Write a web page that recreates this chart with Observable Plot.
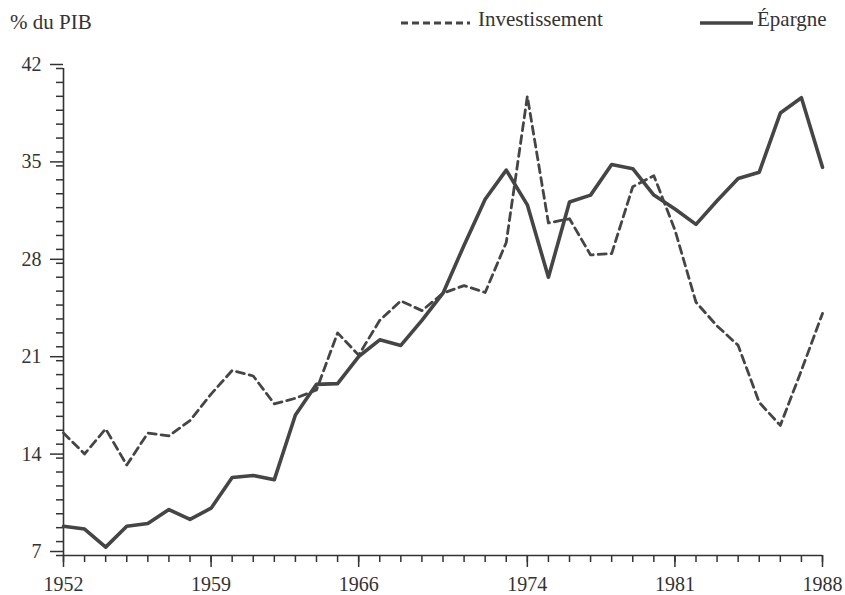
<!DOCTYPE html>
<html>
<head>
<meta charset="utf-8">
<script src="https://cdn.jsdelivr.net/npm/d3@7"></script>
<script src="https://cdn.jsdelivr.net/npm/@observablehq/plot@0.6"></script>
<style>
  html, body { margin: 0; padding: 0; background: #fff; }
  #wrap { position: relative; width: 845px; height: 595px; font-family: "Liberation Serif", "DejaVu Serif", serif; color: #333; }
  .lbl { position: absolute; font-size: 21px; line-height: 22px; white-space: nowrap; }
  .sample { position: absolute; }
</style>
</head>
<body>
<div id="wrap">
  <div class="lbl" style="left:10px; top:11px;">% du PIB</div>
  <svg class="sample" style="left:400px; top:12px;" width="72" height="20"><line x1="1" y1="11" x2="70" y2="11" stroke="#454545" stroke-width="3" stroke-dasharray="7,4"/></svg>
  <div class="lbl" style="left:478px; top:8px;">Investissement</div>
  <svg class="sample" style="left:700px; top:12px;" width="56" height="20"><line x1="0" y1="11" x2="53" y2="11" stroke="#454545" stroke-width="3.5"/></svg>
  <div class="lbl" style="left:757px; top:8px;">Épargne</div>
  <div id="chart" style="position:absolute; left:0; top:0;"></div>
</div>
<script>
const years = [1952,1953,1954,1955,1956,1957,1958,1959,1960,1961,1962,1963,1964,1965,1966,1967,1968,1969,1970,1971,1972,1973,1974,1975,1976,1977,1978,1979,1980,1981,1982,1983,1984,1985,1986,1987,1988];
const investissement = [15.8,14.3,16.1,13.5,15.8,15.6,16.7,18.6,20.3,19.9,17.9,18.3,18.9,23.0,21.4,23.9,25.3,24.6,25.85,26.4,25.9,29.5,40.0,30.9,31.2,28.6,28.7,33.5,34.3,30.4,25.2,23.5,22.1,18.0,16.35,20.3,24.4];
const epargne = [9.1,8.9,7.6,9.1,9.3,10.3,9.6,10.4,12.6,12.75,12.45,17.1,19.3,19.35,21.3,22.5,22.1,23.9,25.85,29.3,32.6,34.7,32.2,27.0,32.4,32.9,35.1,34.8,32.9,31.9,30.8,32.5,34.1,34.55,38.8,39.9,34.9];
const majorYears = [1952,1959,1966,1974,1981,1988];
const yMajor = [7,14,21,28,35,42];
const yMinor = [7,8,9,10,11,12,13,14,15,16,17,18,19,20,21,22,23,24,25,26,27,28,29,30,31,32,33,34,35,36,37,38,39,40,41,42];

const rows = years.map((y, i) => ({year: y, inv: investissement[i], ep: epargne[i]}));
const ink = "#454545";

const chart = Plot.plot({
  width: 845,
  height: 595,
  marginTop: 68,
  marginBottom: 40,
  marginLeft: 63,
  marginRight: 23,
  style: {fontFamily: "Liberation Serif, DejaVu Serif, serif", fontSize: "20px", color: "#333", background: "transparent", overflow: "visible"},
  x: {domain: [1952, 1988], label: null},
  y: {domain: [7, 42], label: null},
  marks: [
    Plot.axisX({ticks: years, tickSize: 7, text: null, label: null, stroke: "#333", strokeWidth: 1.5}),
    Plot.axisX({ticks: majorYears, tickSize: 12, tickPadding: 9, label: null, tickFormat: d => String(d), stroke: "#333", strokeWidth: 1.5, fill: "#333"}),
    Plot.axisY({ticks: yMinor, tickSize: 7, text: null, label: null, stroke: "#333", strokeWidth: 1.5}),
    Plot.axisY({ticks: yMajor, tickSize: 13, tickPadding: 9, dy: -4, label: null, tickFormat: d => String(d), stroke: "#333", strokeWidth: 1.5, fill: "#333"}),
    Plot.ruleY([7], {stroke: "#333", strokeWidth: 1.6}),
    Plot.ruleX([1952], {stroke: "#333", strokeWidth: 1.6}),
    Plot.lineY(rows, {x: "year", y: "inv", stroke: ink, strokeWidth: 2.8, strokeDasharray: "8,5", strokeLinejoin: "round"}),
    Plot.lineY(rows, {x: "year", y: "ep", stroke: ink, strokeWidth: 3.6, strokeLinejoin: "round"})
  ]
});
document.getElementById("chart").appendChild(chart);
</script>
</body>
</html>
